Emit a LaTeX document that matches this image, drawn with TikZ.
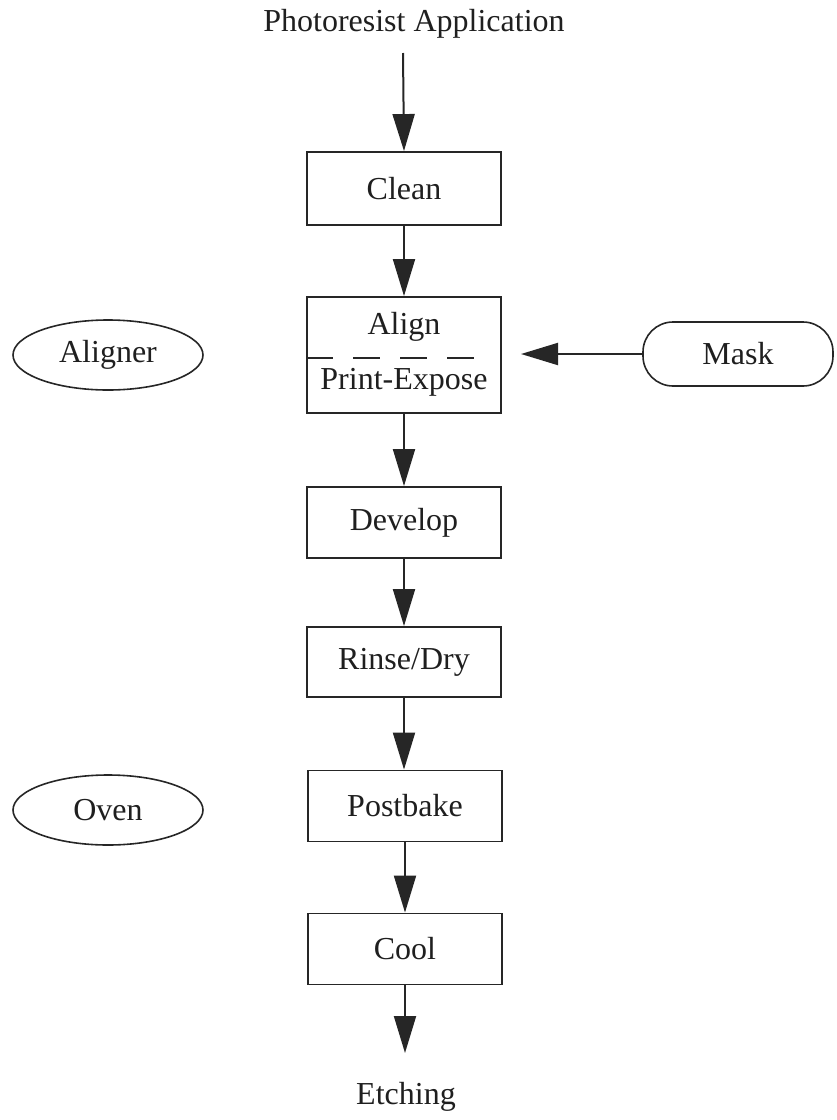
\documentclass[tikz,border=0pt]{standalone}
\usepackage{fontspec}
\setmainfont{Liberation Serif}
\usetikzlibrary{arrows.meta,shapes.geometric}
\begin{document}
\begin{tikzpicture}[x=1pt,y=-1pt,
  every node/.style={font=\fontsize{32}{37}\selectfont, text=black!88},
  stepbox/.style={draw=black!85, line width=1.9pt, rectangle, minimum width=194pt, inner sep=0pt},
  res/.style={draw=black!85, line width=1.6pt, ellipse, minimum width=190pt, minimum height=70pt, inner sep=0pt},
  flow/.style={draw=black!85, line width=2pt, -{Triangle[length=37pt,width=22pt]}},
  lbl/.style={inner sep=0pt}]
\useasboundingbox (0,0) rectangle (836,1120);
\node[lbl] (title) at (414,24) {Photoresist Application};
\coordinate (start) at (403,53);
\node[stepbox, minimum height=73pt] (clean) at (404,188.5) {Clean};
\node[stepbox, minimum height=116pt] (align) at (404,355) {};
\node[lbl] (aligntxt) at (404,327) {Align};
\node[lbl] (printtxt) at (404,382) {Print-Expose};
\draw[black!85, line width=1.8pt, dash pattern=on 27pt off 20pt] ([yshift=-3pt]align.west) -- ++(168,0);
\node[stepbox, minimum height=71pt] (develop) at (404,522.5) {Develop};
\node[stepbox, minimum height=70pt] (rinse) at (404,662) {Rinse/Dry};
\node[stepbox, minimum height=71pt] (postbake) at (405,806) {Postbake};
\node[stepbox, minimum height=71pt] (cool) at (405,949) {Cool};
\coordinate (stop) at (405,1053);
\node[lbl] (etching) at (406,1097) {Etching};
\node[res] (aligner) at (108,355) {Aligner};
\node[res] (oven) at (108,810) {Oven};
\node[draw=black!85, line width=1.6pt, rectangle, rounded corners=30pt, minimum width=190pt, minimum height=64pt, inner sep=0pt] (mask) at (738,354) {Mask};
\coordinate (maskend) at (521,354);
\draw[flow] (start) -- (clean.north);
\draw[flow] (clean.south) -- (align.north);
\draw[flow] (align.south) -- (develop.north);
\draw[flow] (develop.south) -- (rinse.north);
\draw[flow] (rinse.south) -- (postbake.north -| rinse.south);
\draw[flow] (postbake.south) -- (cool.north);
\draw[flow] (cool.south) -- (stop);
\draw[flow] (mask.west) -- (maskend);
\end{tikzpicture}
\end{document}
